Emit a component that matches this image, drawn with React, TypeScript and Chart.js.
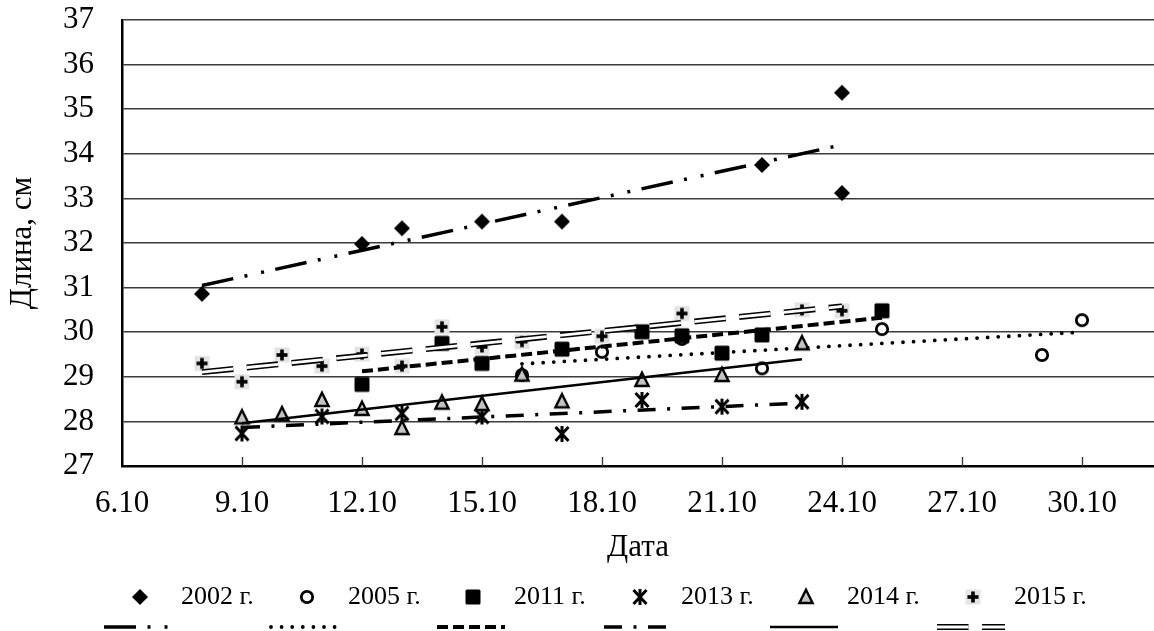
import React, { useEffect, useRef } from "react";
import { Chart, registerables } from "chart.js";

Chart.register(...registerables);

const FONT = "'Liberation Serif', 'Times New Roman', serif";

// ---- data ----
const seriesNames = ["2002 г.", "2005 г.", "2011 г.", "2013 г.", "2014 г.", "2015 г."];

const days2002 = [8, 12, 13, 15, 17, 22, 24, 24];
const len2002 = [30.86, 31.98, 32.33, 32.48, 32.48, 33.75, 35.37, 33.12];

const days2005 = [16, 18, 20, 22, 25, 29, 30];
const len2005 = [29.04, 29.56, 29.85, 29.19, 30.07, 29.49, 30.27];

const days2011 = [12, 14, 15, 17, 19, 20, 21, 22, 25];
const len2011 = [28.83, 29.75, 29.3, 29.62, 30.01, 29.92, 29.53, 29.94, 30.48];

const days2013 = [9, 11, 13, 15, 17, 19, 21, 23];
const len2013 = [27.73, 28.11, 28.18, 28.11, 27.72, 28.48, 28.33, 28.44];

const days2014 = [9, 10, 11, 12, 13, 14, 15, 16, 17, 19, 21, 23];
const len2014 = [28.09, 28.16, 28.48, 28.28, 27.85, 28.42, 28.39, 29.05, 28.45, 28.93, 29.04, 29.75];

const days2015 = [8, 9, 10, 11, 12, 13, 14, 15, 16, 18, 20, 23, 24];
const len2015 = [29.3, 28.89, 29.49, 29.24, 29.51, 29.24, 30.12, 29.67, 29.79, 29.91, 30.42, 30.5, 30.48];

const xTickValues = [6, 9, 12, 15, 18, 21, 24, 27, 30];
const xTickLabels = ["6.10", "9.10", "12.10", "15.10", "18.10", "21.10", "24.10", "27.10", "30.10"];
const yTickValues = [27, 28, 29, 30, 31, 32, 33, 34, 35, 36, 37];

const X_MIN = 6;
const X_MAX = 31.8;
const Y_MIN = 27;
const Y_MAX = 37;

const allDays = [days2002, days2005, days2011, days2013, days2014, days2015];
const allLens = [len2002, len2005, len2011, len2013, len2014, len2015];

// ---- styles ----
type MarkerKind = "diamond" | "circle" | "square" | "star" | "triangle" | "plus";
const markerKinds: MarkerKind[] = ["diamond", "circle", "square", "star", "triangle", "plus"];

type TrendStyle = { width: number; dash: number[]; cap: CanvasLineCap; double?: boolean };
const trendStyles: TrendStyle[] = [
  { width: 3.5, dash: [32, 11.5, 3, 14, 3, 11.5], cap: "butt" },
  { width: 3.8, dash: [0, 10.6], cap: "round" },
  { width: 4, dash: [11, 5], cap: "butt" },
  { width: 3.5, dash: [18, 11.5, 3, 11.5], cap: "butt" },
  { width: 2.6, dash: [], cap: "butt" },
  { width: 6, dash: [31.5, 13.5], cap: "butt", double: true },
];
const DOUBLE_INNER = 2.8;

function makeMarker(kind: MarkerKind): HTMLCanvasElement {
  const s = 22;
  const c = document.createElement("canvas");
  c.width = s;
  c.height = s;
  const g = c.getContext("2d") as CanvasRenderingContext2D;
  const m = s / 2;
  g.fillStyle = "#000";
  g.strokeStyle = "#000";
  switch (kind) {
    case "diamond":
      g.beginPath();
      g.moveTo(m, m - 8);
      g.lineTo(m + 8, m);
      g.lineTo(m, m + 8);
      g.lineTo(m - 8, m);
      g.closePath();
      g.fill();
      break;
    case "circle":
      g.beginPath();
      g.arc(m, m, 5.7, 0, Math.PI * 2);
      g.fillStyle = "#fff";
      g.fill();
      g.lineWidth = 2.8;
      g.stroke();
      break;
    case "square":
      g.beginPath();
      g.moveTo(m - 7.5 + 1.5, m - 7.5);
      g.arcTo(m + 7.5, m - 7.5, m + 7.5, m + 7.5, 1.5);
      g.arcTo(m + 7.5, m + 7.5, m - 7.5, m + 7.5, 1.5);
      g.arcTo(m - 7.5, m + 7.5, m - 7.5, m - 7.5, 1.5);
      g.arcTo(m - 7.5, m - 7.5, m + 7.5, m - 7.5, 1.5);
      g.closePath();
      g.fill();
      break;
    case "star":
      g.lineWidth = 3;
      g.lineCap = "butt";
      g.beginPath();
      g.moveTo(m - 6.5, m - 7);
      g.lineTo(m + 6.5, m + 7);
      g.moveTo(m + 6.5, m - 7);
      g.lineTo(m - 6.5, m + 7);
      g.moveTo(m, m - 8);
      g.lineTo(m, m + 8);
      g.stroke();
      break;
    case "triangle":
      g.beginPath();
      g.moveTo(m, m - 7.2);
      g.lineTo(m + 6.6, m + 6);
      g.lineTo(m - 6.6, m + 6);
      g.closePath();
      g.fillStyle = "#c4c4c4";
      g.fill();
      g.lineWidth = 2.4;
      g.lineJoin = "miter";
      g.stroke();
      break;
    case "plus":
      g.fillStyle = "#e4e4e4";
      g.fillRect(m - 7.5, m - 7.5, 15, 15);
      g.fillStyle = "#000";
      g.fillRect(m - 5.5, m - 1.8, 11, 3.6);
      g.fillRect(m - 1.8, m - 5.5, 3.6, 11);
      break;
  }
  return c;
}

function linearTrend(xs: number[], ys: number[]) {
  const n = xs.length;
  const mx = xs.reduce((a, b) => a + b, 0) / n;
  const my = ys.reduce((a, b) => a + b, 0) / n;
  let sxy = 0;
  let sxx = 0;
  for (let i = 0; i < n; i++) {
    sxy += (xs[i] - mx) * (ys[i] - my);
    sxx += (xs[i] - mx) * (xs[i] - mx);
  }
  const b = sxy / sxx;
  const a = my - b * mx;
  const x0 = Math.min(...xs);
  const x1 = Math.max(...xs);
  return [
    { x: x0, y: a + b * x0 },
    { x: x1, y: a + b * x1 },
  ];
}

export default function App() {
  const canvasRef = useRef<HTMLCanvasElement | null>(null);

  useEffect(() => {
    document.body.style.margin = "0";
    const canvas = canvasRef.current;
    if (!canvas) return;
    const markers = markerKinds.map((k) => makeMarker(k));

    const datasets: any[] = [];
    // trendlines (drawn on top)
    allDays.forEach((xs, i) => {
      const st = trendStyles[i];
      const pts = linearTrend(xs, allLens[i]);
      if (st.double) {
        datasets.push({
          label: "trend-inner-" + i,
          data: pts,
          showLine: true,
          pointRadius: 0,
          borderColor: "#fff",
          borderWidth: DOUBLE_INNER,
          borderDash: st.dash,
          borderCapStyle: st.cap,
          order: 0,
        });
      }
      datasets.push({
        label: "trend-" + i,
        data: pts,
        showLine: true,
        pointRadius: 0,
        borderColor: "#000",
        borderWidth: st.width,
        borderDash: st.dash,
        borderCapStyle: st.cap,
        order: 1 + i,
      });
    });
    // markers; later series on top
    allDays.forEach((xs, i) => {
      datasets.push({
        label: seriesNames[i],
        data: xs.map((x, j) => ({ x, y: allLens[i][j] })),
        showLine: false,
        pointStyle: markers[i],
        pointRadius: 8,
        order: 20 - i,
      });
    });

    const insideTicks = {
      id: "insideTicks",
      afterDraw(chart: any) {
        const { ctx, scales } = chart;
        const xs = scales.x;
        const bottom = chart.chartArea.bottom;
        ctx.save();
        ctx.strokeStyle = "#3c3c3c";
        ctx.lineWidth = 1.4;
        xTickValues.forEach((v) => {
          if (v === X_MIN) return;
          const px = Math.round(xs.getPixelForValue(v)) + 0.5;
          ctx.beginPath();
          ctx.moveTo(px, bottom - 9);
          ctx.lineTo(px, bottom);
          ctx.stroke();
        });
        ctx.restore();
      },
    };

    const customLegend = {
      id: "customLegend",
      afterDraw(chart: any) {
        const { ctx } = chart;
        const x0 = 140;
        const step = 166.6;
        const rowY = 597;
        const lineY = 627;
        ctx.save();
        seriesNames.forEach((name, i) => {
          const mx = Math.round(x0 + step * i);
          const mk = markers[i];
          ctx.drawImage(mk, mx - mk.width / 2, rowY - mk.height / 2);
          ctx.fillStyle = "#000";
          ctx.font = `26px ${FONT}`;
          ctx.textBaseline = "middle";
          ctx.textAlign = "left";
          ctx.fillText(name, mx + 41, rowY);
          const st = trendStyles[i];
          const drawSample = (color: string, w: number) => {
            ctx.beginPath();
            ctx.strokeStyle = color;
            ctx.lineWidth = w;
            ctx.setLineDash(st.dash);
            ctx.lineCap = st.cap;
            ctx.moveTo(mx - 36, lineY);
            ctx.lineTo(mx + 32, lineY);
            ctx.stroke();
          };
          drawSample("#000", st.width);
          if (st.double) drawSample("#fff", DOUBLE_INNER);
        });
        ctx.restore();
      },
    };

    const chart = new Chart(canvas, {
      type: "scatter",
      data: { datasets },
      options: {
        responsive: false,
        animation: false,
        devicePixelRatio: 1,
        events: [],
        layout: { autoPadding: false, padding: { left: 4, top: 20, right: 0, bottom: 65 } },
        plugins: {
          legend: { display: false },
          tooltip: { enabled: false },
        },
        scales: {
          x: {
            type: "linear",
            min: X_MIN,
            max: X_MAX,
            afterBuildTicks: (s: any) => {
              s.ticks = xTickValues.map((v) => ({ value: v }));
            },
            afterFit: (s: any) => {
              s.height = 100;
              s.paddingLeft = 0;
              s.paddingRight = 0;
              s.paddingTop = 0;
              s.paddingBottom = 0;
            },
            ticks: {
              autoSkip: false,
              maxRotation: 0,
              padding: 19,
              color: "#000",
              font: { family: FONT, size: 31 },
              callback: (v: any) => {
                const idx = xTickValues.indexOf(Number(v));
                return idx >= 0 ? xTickLabels[idx] : "";
              },
            },
            grid: { display: false, drawTicks: false },
            border: { display: true, color: "#000", width: 2.5 },
            title: {
              display: true,
              text: "Дата",
              color: "#000",
              padding: 0,
              font: { family: FONT, size: 31 },
            },
          },
          y: {
            type: "linear",
            min: Y_MIN,
            max: Y_MAX,
            afterBuildTicks: (s: any) => {
              s.ticks = yTickValues.map((v) => ({ value: v }));
            },
            afterFit: (s: any) => {
              s.width = 118;
              s.paddingLeft = 0;
              s.paddingRight = 0;
              s.paddingTop = 0;
              s.paddingBottom = 0;
            },
            ticks: {
              padding: 28,
              color: "#000",
              font: { family: FONT, size: 31 },
              callback: (v: any) => String(v),
            },
            grid: { color: "#3c3c3c", lineWidth: 1.5, drawTicks: false },
            border: { display: true, color: "#000", width: 2.5 },
            title: {
              display: true,
              text: "Длина, см",
              color: "#000",
              padding: 0,
              font: { family: FONT, size: 31 },
            },
          },
        },
      } as any,
      plugins: [insideTicks, customLegend],
    });

    return () => {
      chart.destroy();
    };
  }, []);

  return (
    <div style={{ position: "absolute", left: 0, top: 0, width: 1154, height: 631, background: "#fff" }}>
      <canvas ref={canvasRef} width={1154} height={631} />
    </div>
  );
}
